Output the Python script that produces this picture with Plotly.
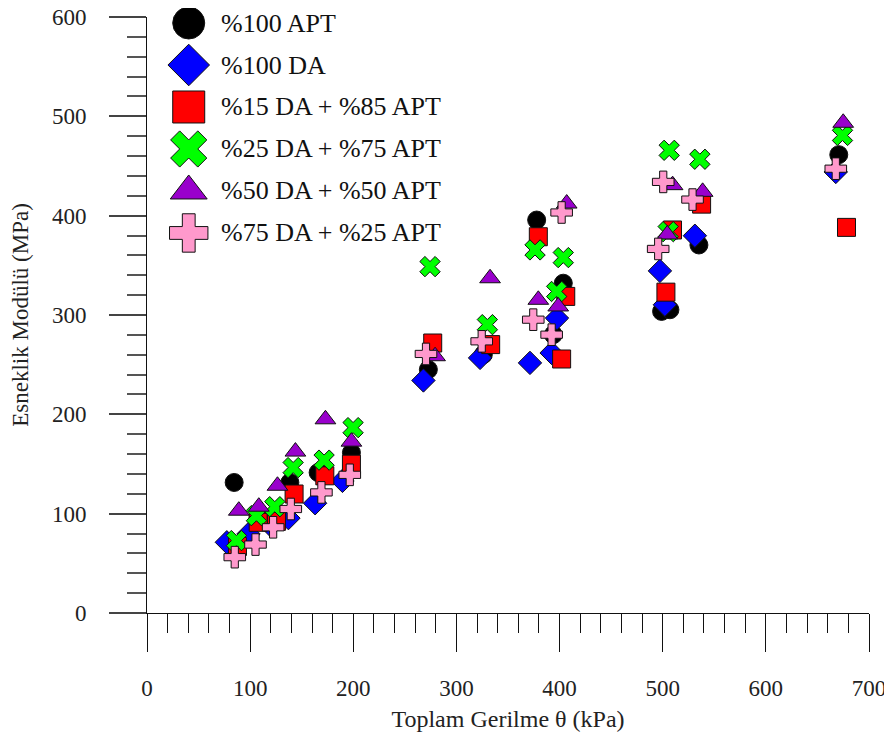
import plotly.graph_objects as go

# Toplam gerilme (kPa) / esneklik modulu (MPa)
apt100_x = [84.5, 107.8, 123.0, 138.5, 165.9, 198.2, 272.8, 326.1, 377.8, 393.9, 403.6, 498.9, 507.0, 535.1, 670.7]
apt100_y = [131.4, 96.3, 97.0, 131.4, 141.4, 161.5, 245.1, 260.2, 395.6, 280.2, 332.0, 303.6, 305.3, 370.5, 461.4]

da100_x = [77.4, 98.4, 120.0, 137.1, 163.0, 189.5, 268.0, 322.9, 371.3, 392.3, 397.5, 497.3, 502.1, 531.2, 667.8]
da100_y = [71.2, 79.6, 88.0, 95.5, 110.5, 133.0, 234.1, 256.8, 251.8, 261.8, 296.9, 344.4, 310.3, 379.8, 444.0]

da15_x = [87.7, 107.8, 125.5, 142.6, 172.4, 198.2, 277.0, 333.2, 379.4, 402.0, 406.0, 503.1, 509.5, 537.7, 678.2]
da15_y = [67.0, 91.3, 92.3, 119.8, 138.1, 149.8, 271.8, 270.2, 378.8, 255.7, 318.7, 323.0, 385.6, 411.6, 388.2]

da25_x = [86.7, 106.1, 123.9, 141.7, 171.7, 199.8, 274.4, 330.0, 376.2, 397.2, 403.6, 505.3, 506.3, 536.0, 674.3]
da25_y = [72.9, 98.0, 107.0, 146.4, 153.9, 186.6, 348.7, 290.3, 365.5, 323.7, 357.8, 383.9, 465.8, 456.8, 480.8]

da50_x = [89.0, 108.4, 126.5, 143.9, 173.0, 198.2, 279.3, 332.6, 379.4, 398.7, 406.9, 504.4, 509.6, 538.7, 675.0]
da50_y = [103.0, 107.0, 128.1, 162.5, 195.0, 172.5, 258.5, 337.0, 315.3, 308.6, 412.2, 381.1, 430.7, 424.0, 493.5]

da75_x = [85.1, 105.2, 122.3, 139.4, 169.1, 196.6, 270.5, 324.5, 374.5, 392.3, 402.0, 495.6, 500.5, 528.9, 667.8]
da75_y = [56.2, 68.9, 86.3, 104.7, 121.4, 139.1, 260.8, 273.5, 295.3, 280.2, 403.2, 366.5, 434.0, 416.2, 447.3]

names = ['%100 APT', '%100 DA', '%15 DA + %85 APT', '%25 DA + %75 APT', '%50 DA + %50 APT', '%75 DA + %25 APT']
xs = [apt100_x, da100_x, da15_x, da25_x, da50_x, da75_x]
ys = [apt100_y, da100_y, da15_y, da25_y, da50_y, da75_y]
symbols = ['circle', 'diamond', 'square', 'x', 'triangle-up', 'cross']
colors = ['#000000', '#0000FF', '#FF0000', '#00FF00', '#9900CC', '#FF99CC']

FONT = 'Liberation Serif'

fig = go.Figure()

for name, x, y, sym, col in zip(names, xs, ys, symbols, colors):
    fig.add_trace(go.Scatter(x=x, y=y, mode='markers', name=name,
                             marker=dict(symbol=sym, size=18, color=col,
                                         line=dict(color='#111111', width=1)),
                             cliponaxis=False, showlegend=False))

# hand-made legend (big symbols), drawn on a hidden overlay axis pair
rows = list(range(len(names)))
for i, sym, col in zip(rows, symbols, colors):
    fig.add_trace(go.Scatter(x=[0], y=[i], mode='markers', xaxis='x2', yaxis='y2',
                             marker=dict(symbol=sym, size=32, color=col,
                                         line=dict(color='#111111', width=1)),
                             cliponaxis=False, showlegend=False, hoverinfo='skip'))
for i, name in zip(rows, names):
    fig.add_annotation(x=0.72, y=i, xref='x2', yref='y2', text=name, showarrow=False,
                       xanchor='left', yanchor='middle', font=dict(family=FONT, size=26, color='#111111'))

# page body adds an 8px offset, so the figure is 8px smaller and margins shifted
fig.update_layout(
    width=884, height=732,
    margin=dict(l=139, r=23, t=9, b=127),
    paper_bgcolor='white', plot_bgcolor='white',
    font=dict(family=FONT, color='#222222'),
    showlegend=False,
    xaxis=dict(range=[0, 700], dtick=100, showgrid=False, zeroline=False, automargin=False,
               showline=True, linecolor='#111111', linewidth=1,
               ticks='outside', ticklen=38, tickwidth=1, tickcolor='#111111',
               minor=dict(dtick=20, ticks='outside', ticklen=19, tickwidth=1, tickcolor='#111111'),
               ticklabelstandoff=16, ticklabeloverflow='allow', tickfont=dict(size=23, family=FONT),
               title=dict(text='Toplam Gerilme θ (kPa)', font=dict(size=24, family=FONT), standoff=10)),
    yaxis=dict(range=[0, 600], dtick=100, showgrid=False, zeroline=False, automargin=False,
               showline=True, linecolor='#111111', linewidth=1,
               ticks='outside', ticklen=37, tickwidth=1.5, tickcolor='#444444',
               minor=dict(dtick=20, ticks='outside', ticklen=19, tickwidth=1.5, tickcolor='#555555'),
               ticklabelstandoff=18, ticklabeloverflow='allow', tickfont=dict(size=23, family=FONT),
               title=dict(text='Esneklik Modülü (MPa)', font=dict(size=23, family=FONT), standoff=18)),
    xaxis2=dict(overlaying='x', range=[-1, 16.3], visible=False),
    yaxis2=dict(overlaying='y', range=[14.05, -0.143], visible=False),
)

fig.write_html('out.html')
